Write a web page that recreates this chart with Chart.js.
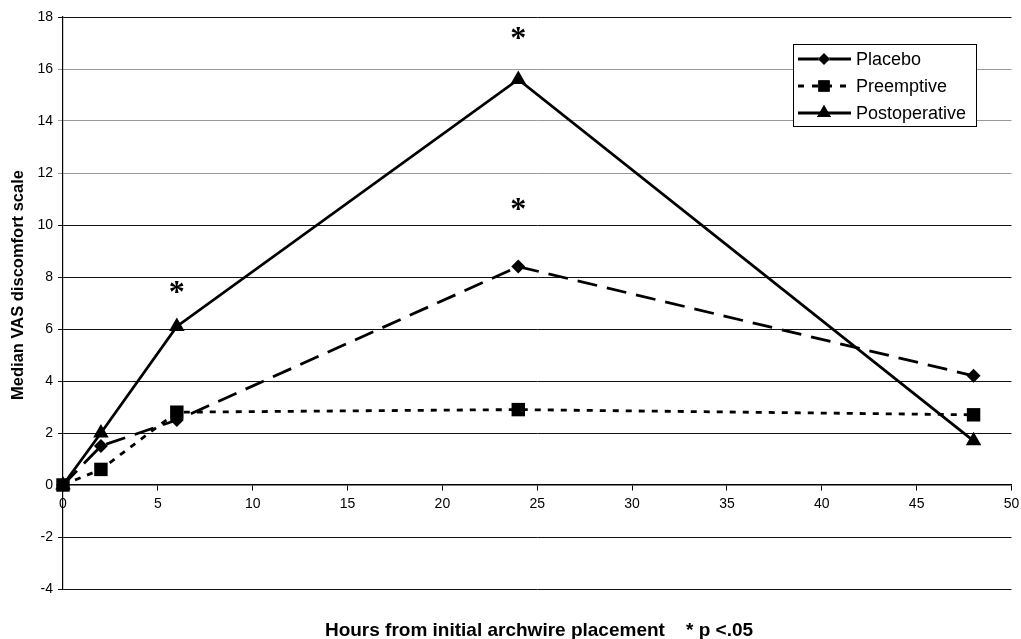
<!DOCTYPE html>
<html>
<head>
<meta charset="utf-8">
<script src="https://cdn.jsdelivr.net/npm/chart.js@4.4.1/dist/chart.umd.min.js"></script>
<style>
  html, body { margin: 0; padding: 0; background: #fff; }
  #wrap { width: 1021px; height: 639px; }
</style>
</head>
<body>
<div id="wrap"><canvas id="vasChart" width="1021" height="639"></canvas></div>
<script>
// hours after archwire placement
const hours = [0, 2, 6, 24, 48];

// median VAS values per group
const placebo = [0, 1.5, 2.5, 8.4, 4.2];
const preemptive = [0, 0.6, 2.8, 2.9, 2.7];
const postoperative = [0, 2.0, 6.1, 15.6, 1.7];

const seriesNames = ['Placebo', 'Preemptive', 'Postoperative'];

// axis ranges / ticks
const xRange = [0, 50];
const xStep = 5;
const yRange = [-4, 18];
const yStep = 2;
const lightGridValues = [12, 14, 16];

// significance marks (* p < .05)
const sigX = [6, 24, 24];
const sigY = [7.6, 10.8, 17.4];

const xTitle = 'Hours from initial archwire placement    * p <.05';
const yTitle = 'Median VAS discomfort scale';

const toPoints = (vals) => hours.map((h, i) => ({ x: h, y: vals[i] }));

Chart.defaults.font.family = '"Liberation Sans", Arial, sans-serif';
Chart.defaults.color = '#000';

const styles = [
    { dash: [20, 10], legendDash: [], point: 'rectRot', radius: 7, legendRadius: 6 },
    { dash: [6, 7], legendDash: [6, 8], point: 'rect', radius: 9.5, legendRadius: 8 },
    { dash: [], legendDash: [], point: 'triangle', radius: 9, legendRadius: 8 }
];

const makeSet = (name, vals, st) => ({
    label: name,
    data: toPoints(vals),
    borderColor: '#000',
    backgroundColor: '#000',
    borderWidth: 2.8,
    borderDash: st.dash,
    pointStyle: st.point,
    pointRadius: st.radius,
    pointBorderWidth: 0,
    pointBackgroundColor: '#000',
    tension: 0,
    clip: false
});

// asterisks drawn at data coordinates
const sigPlugin = {
    id: 'sigMarks',
    afterDatasetsDraw(chart) {
        const { ctx, scales } = chart;
        ctx.save();
        ctx.fillStyle = '#000';
        ctx.font = 'bold 32px "Liberation Serif", "Times New Roman", serif';
        ctx.textAlign = 'center';
        ctx.textBaseline = 'alphabetic';
        const m = ctx.measureText('*');
        const off = (m.actualBoundingBoxAscent - m.actualBoundingBoxDescent) / 2;
        sigX.forEach((x, i) => {
            const px = scales.x.getPixelForValue(x);
            const py = scales.y.getPixelForValue(sigY[i]);
            ctx.fillText('*', px, py + off);
        });
        ctx.restore();
    }
};

// legend box and axis titles
const decorPlugin = {
    id: 'decor',
    afterDraw(chart) {
        const { ctx } = chart;
        ctx.save();

        // legend
        const bx = 793, by = 44, bw = 183, bh = 82;
        ctx.fillStyle = '#fff';
        ctx.fillRect(bx, by, bw, bh);
        ctx.strokeStyle = '#000';
        ctx.lineWidth = 1;
        ctx.strokeRect(bx + 0.5, by + 0.5, bw, bh);

        const rows = [59, 86, 113];
        seriesNames.forEach((name, i) => {
            const st = styles[i];
            const y = rows[i];
            ctx.setLineDash(st.legendDash);
            ctx.lineWidth = 2.8;
            ctx.beginPath();
            ctx.moveTo(798, y);
            ctx.lineTo(851, y);
            ctx.stroke();
            ctx.setLineDash([]);
            Chart.helpers.drawPoint(ctx, {
                pointStyle: st.point,
                radius: st.legendRadius,
                borderWidth: 0,
                rotation: 0
            }, 824, y);
            ctx.fillStyle = '#000';
            ctx.fill();
            ctx.font = '18px "Liberation Sans", Arial, sans-serif';
            ctx.textAlign = 'left';
            ctx.textBaseline = 'middle';
            ctx.fillText(name, 856, y + 1);
        });

        // x title
        ctx.fillStyle = '#000';
        ctx.font = 'bold 19px "Liberation Sans", Arial, sans-serif';
        ctx.textAlign = 'center';
        ctx.textBaseline = 'middle';
        ctx.fillText(xTitle, 539, 631);

        // y title
        ctx.translate(18, 285);
        ctx.rotate(-Math.PI / 2);
        ctx.font = 'bold 16.5px "Liberation Sans", Arial, sans-serif';
        ctx.fillText(yTitle, 0, 0);

        ctx.restore();
    }
};

new Chart(document.getElementById('vasChart'), {
    type: 'line',
    data: {
        datasets: [
            makeSet(seriesNames[0], placebo, styles[0]),
            makeSet(seriesNames[1], preemptive, styles[1]),
            makeSet(seriesNames[2], postoperative, styles[2])
        ]
    },
    options: {
        responsive: false,
        animation: false,
        layout: { padding: { top: 17, right: 8, bottom: 50, left: 0 } },
        plugins: {
            legend: { display: false },
            tooltip: { enabled: false }
        },
        scales: {
            x: {
                type: 'linear',
                position: { y: 0 },
                min: xRange[0],
                max: xRange[1],
                ticks: { stepSize: xStep, font: { size: 14 }, color: '#000', padding: 6, maxRotation: 0 },
                grid: { drawOnChartArea: false, drawTicks: true, tickLength: 5, color: '#000' },
                border: { color: '#000', width: 1.5 },
                afterFit(scale) { scale.paddingLeft = 0; scale.paddingRight = 0; }
            },
            y: {
                min: yRange[0],
                max: yRange[1],
                ticks: { stepSize: yStep, font: { size: 14 }, color: '#000', padding: 5 },
                grid: {
                    color: (c) => lightGridValues.includes(c.tick && c.tick.value) ? '#999' : '#111',
                    tickLength: 5,
                    lineWidth: 1
                },
                border: { color: '#000', width: 1.2 },
                afterFit(scale) { scale.width = 63; }
            }
        }
    },
    plugins: [sigPlugin, decorPlugin]
});
</script>
</body>
</html>
